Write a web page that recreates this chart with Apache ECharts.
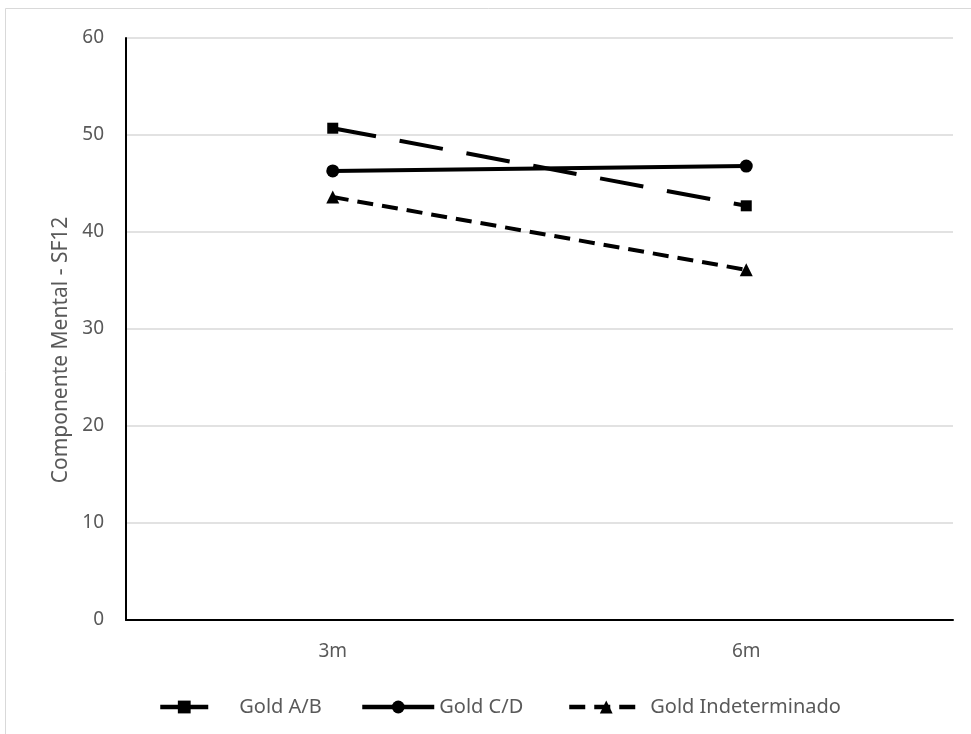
<!DOCTYPE html>
<html><head><meta charset="utf-8">
<script src="https://cdn.jsdelivr.net/npm/echarts@6/dist/echarts.min.js"></script>
<style>html,body{margin:0;padding:0;background:#fff}#c{width:971px;height:734px}</style>
</head><body><div id="c"></div>
<script>
const categories = ["3m", "6m"];
const goldAB = [50.7, 42.7];
const goldCD = [46.3, 46.8];
const goldInd = [43.6, 36.1];
const yTicks = [0, 10, 20, 30, 40, 50, 60];
const seriesNames = ["Gold A/B", "Gold C/D", "Gold Indeterminado"];

const font = "Noto Sans";
const grey = "#595959";
const legendLefts = [153, 355, 562];
const legendWidths = [48, 72, 74];
const legendPads = [26, 0, 2];
const legendLineTypes = ['solid', 'solid', [16, 9]];

const chart = echarts.init(document.getElementById('c'), null, {renderer: 'canvas'});
chart.setOption({
  animation: false,
  backgroundColor: '#fff',
  textStyle: {fontFamily: font},
  graphic: [{type: 'rect', shape: {x: 5.5, y: 8.5, width: 1200, height: 1200}, style: {fill: 'none', stroke: '#d9d9d9', lineWidth: 1}, silent: true}],
  grid: {left: 126, right: 18, top: 38, bottom: 114, containLabel: false},
  legend: seriesNames.map((n, i) => ({
    top: 692, left: legendLefts[i], itemWidth: legendWidths[i], itemHeight: 16, itemGap: 0,
    textStyle: {color: grey, fontSize: 20, fontFamily: font, padding: [0, 0, 0, legendPads[i]]},
    lineStyle: {width: 4.5, type: legendLineTypes[i]},
    data: [n]
  })),
  xAxis: {
    type: 'category', data: categories, boundaryGap: true,
    axisLine: {lineStyle: {color: '#000', width: 2}},
    axisTick: {show: false},
    axisLabel: {color: grey, fontSize: 19, margin: 22, fontFamily: font}
  },
  yAxis: {
    type: 'value', min: yTicks[0], max: yTicks[yTicks.length - 1], interval: 10,
    name: 'Componente Mental - SF12', nameLocation: 'middle', nameGap: 52, nameRotate: 90,
    nameTextStyle: {color: grey, fontSize: 21, fontFamily: font, padding: [0, 42, 0, 0]},
    axisLine: {show: true, lineStyle: {color: '#000', width: 2}},
    axisTick: {show: false},
    axisLabel: {color: grey, fontSize: 19, margin: 22, fontFamily: font},
    splitLine: {lineStyle: {color: '#d9d9d9', width: 1.5}}
  },
  series: [
    {name: seriesNames[0], type: 'line', data: goldAB, symbol: 'rect', symbolSize: 11,
     lineStyle: {color: '#000', width: 4, type: [44, 24]}, itemStyle: {color: '#000'}},
    {name: seriesNames[1], type: 'line', data: goldCD, symbol: 'circle', symbolSize: 13,
     lineStyle: {color: '#000', width: 4, type: 'solid'}, itemStyle: {color: '#000'}},
    {name: seriesNames[2], type: 'line', data: goldInd, symbol: 'triangle', symbolSize: 13,
     lineStyle: {color: '#000', width: 4, type: [16, 9]}, itemStyle: {color: '#000'}}
  ]
});
</script></body></html>
